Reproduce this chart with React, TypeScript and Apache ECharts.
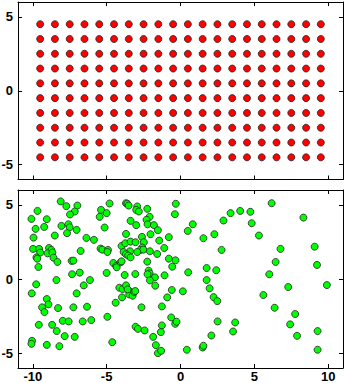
import React, { useEffect, useRef } from "react";
import * as echarts from "echarts";

const gridX = [-9.5, -8.5, -7.5, -6.5, -5.5, -4.5, -3.5, -2.5, -1.5, -0.5, 0.5, 1.5, 2.5, 3.5, 4.5, 5.5, 6.5, 7.5, 8.5, 9.5];
const gridY = [-4.5, -3.5, -2.5, -1.5, -0.5, 0.5, 1.5, 2.5, 3.5, 4.5];

const scatterPoints: [number, number][] = [
  [-10.09, 4.05], [-9.68, 4.59], [-8.11, 5.23], [-7.73, 4.91], [-6.98, 4.95], [-7.16, 4.55],
  [-7.48, 4.35], [-9.05, 4.03], [-9.81, 3.38], [-9.23, 3.51], [-8.06, 3.58], [-7.59, 3.69],
  [-7.5, 3.49], [-7.68, 3.09], [-7.03, 3.31], [-8.51, 2.93], [-9.95, 2.79], [-9.98, 2.03],
  [-9.57, 2.03], [-9.5, 1.78], [-9.75, 1.46], [-9.7, 1.37], [-8.9, 2.09], [-8.74, 1.96],
  [-9.0, 1.73], [-8.67, 1.78], [-8.6, 1.44], [-8.33, 1.15], [-9.62, 0.81], [-6.76, 1.89],
  [-7.37, 1.22], [-7.25, 1.24], [-6.82, 0.43], [-7.34, 0.32], [-8.4, -0.07], [-9.77, -0.36],
  [-10.07, -0.97], [-7.03, -0.97], [-6.55, -0.43], [-6.13, -0.07], [-9.05, -1.35], [-8.94, -1.71],
  [-9.37, -1.91], [-9.21, -2.23], [-8.29, -1.96], [-7.25, -1.91], [-6.33, -1.87], [-7.97, -2.82],
  [-7.57, -2.86], [-6.62, -2.86], [-6.04, -2.77], [-9.59, -3.09], [-8.69, -3.09], [-8.38, -3.51],
  [-7.84, -3.85], [-7.16, -3.9], [-10.05, -4.17], [-10.09, -4.37], [-9.05, -4.44], [-8.2, -4.53],
  [-4.95, -2.55], [-4.62, -4.26], [-6.37, 2.77], [-5.86, 2.64],
  [-5.38, 4.66], [-5.47, 4.19], [-4.8, 5.09], [-5.0, 4.44], [-5.14, 3.47], [-5.41, 2.05],
  [-5.29, 1.98], [-4.91, 1.96], [-4.95, 1.82], [-5.0, 0.41], [-4.55, 1.08], [-4.35, 0.88],
  [-4.32, 0.79], [-4.05, 1.13], [-3.99, 1.19], [-4.39, -1.6], [-3.99, 2.23], [-3.74, 2.41],
  [-3.38, 2.52], [-3.69, 3.04], [-3.69, 5.11], [-3.6, 5.07], [-3.51, 4.95], [-3.38, 3.92],
  [-2.93, 4.89], [-3.0, 4.66], [-2.82, 4.55], [-2.25, 4.73], [-2.09, 4.19], [-2.3, 3.99],
  [-2.23, 3.69], [-3.0, 3.63], [-1.8, 3.63], [-1.53, 3.29], [-2.03, 3.02], [-2.61, 2.84],
  [-1.44, 2.59], [-0.79, 2.82], [-3.04, 2.48], [-2.48, 2.48], [-1.1, 2.09], [-2.59, 2.12],
  [-2.72, 1.96], [-2.52, 1.98], [-2.93, 1.82], [-3.42, 1.87], [-3.85, 1.82], [-3.69, 1.67],
  [-3.54, 1.58], [-3.38, 1.46], [-2.07, 1.87], [-1.58, 1.69], [-2.25, 1.17], [-0.79, 1.37],
  [-0.34, 1.26], [-0.56, 0.83], [-0.32, 5.07], [-0.38, 4.37], [-2.16, 0.56], [-2.09, 0.38],
  [-2.23, 0.32], [-1.73, 0.11], [-1.08, 0.25], [-2.07, -0.09], [-3.78, 0.27], [-3.06, 0.34],
  [-4.14, -0.59], [-3.92, -0.68], [-3.69, -0.43], [-3.51, -0.77], [-3.96, -1.24], [-3.47, -1.04],
  [-3.24, -1.13], [-3.13, -0.88], [-3.06, -0.81], [-3.58, -0.7], [-1.71, -0.45], [-0.59, -0.74],
  [-0.9, -1.24], [-2.64, -1.91], [-1.26, -1.85], [-0.63, -2.59], [-0.36, -3.02], [-0.27, -2.88],
  [-3.04, -3.22], [-2.88, -3.36], [-2.43, -3.47], [-1.26, -3.13], [-1.33, -3.58], [-1.85, -3.9],
  [-1.67, -4.46], [-1.53, -5.0], [-1.31, -4.84],
  [0.49, 3.24], [0.83, 3.69], [1.55, 2.75], [2.29, 3.02], [2.91, 3.94], [3.39, 4.44],
  [4.04, 4.59], [4.73, 4.53], [4.82, 3.76], [5.31, 2.93], [6.17, 5.11], [8.32, 4.14],
  [2.78, 1.96], [6.77, 2.03], [9.08, 2.18], [9.24, 0.95], [6.44, 1.15], [6.01, 0.32],
  [1.77, 0.74], [2.42, 0.59], [0.52, 0.45], [1.77, -0.07], [1.97, -0.63], [0.16, -0.83],
  [2.24, -1.22], [2.49, -1.49], [5.61, -1.08], [7.29, -0.54], [9.91, -0.41], [6.37, -1.94],
  [7.76, -2.36], [2.51, -2.86], [3.7, -2.93], [7.42, -3.06], [3.56, -3.54], [2.09, -3.81],
  [7.89, -3.83], [9.28, -3.51], [0.43, -4.77], [1.5, -4.62], [1.55, -4.5], [9.28, -4.77],
];

const xTickValues = [-10, -5, 0, 5, 10];
const yTickValues = [-5, 0, 5];

export default function App() {
  const ref = useRef<HTMLDivElement>(null);
  useEffect(() => {
    if (!ref.current) return;
    const chart = echarts.init(ref.current, null, { renderer: "svg" });
    const latticeData: [number, number][] = [];
    gridY.forEach((y) => gridX.forEach((x) => latticeData.push([x, y])));

    const labelStyle = {
      color: "#000",
      fontWeight: "bold" as const,
      fontSize: 13,
      fontFamily: "'Liberation Sans', Arial, sans-serif",
    };
    const lineStyle = { color: "#000", width: 1 };
    const mkX = (gridIndex: number, position: "bottom" | "top", showLabel: boolean) => ({
      type: "value" as const,
      gridIndex,
      position,
      min: -11,
      max: 11,
      axisLine: { show: true, onZero: false, lineStyle },
      axisTick: { show: true, inside: true, length: 4, customValues: xTickValues, lineStyle },
      axisLabel: { show: showLabel, margin: 2, customValues: xTickValues, ...labelStyle },
      splitLine: { show: false },
    });
    const mkY = (gridIndex: number, position: "left" | "right", showLabel: boolean) => ({
      type: "value" as const,
      gridIndex,
      position,
      min: -6,
      max: 6,
      axisLine: { show: true, onZero: false, lineStyle },
      axisTick: { show: true, inside: true, length: 4, customValues: yTickValues, lineStyle },
      axisLabel: { show: showLabel, margin: 5, customValues: yTickValues, ...labelStyle },
      splitLine: { show: false },
    });

    chart.setOption({
      animation: false,
      backgroundColor: "#fff",
      grid: [
        { left: 18, top: 2, width: 325, height: 177.5, outerBoundsMode: "none", containLabel: false },
        { left: 18, top: 190, width: 325, height: 178, outerBoundsMode: "none", containLabel: false },
      ],
      xAxis: [mkX(0, "bottom", false), mkX(0, "top", false), mkX(1, "bottom", true), mkX(1, "top", false)],
      yAxis: [mkY(0, "left", true), mkY(0, "right", false), mkY(1, "left", true), mkY(1, "right", false)],
      series: [
        {
          type: "scatter",
          xAxisIndex: 0,
          yAxisIndex: 0,
          data: latticeData,
          symbolSize: 7,
          itemStyle: { color: "#ff0000", borderColor: "#222", borderWidth: 0.8, opacity: 1 },
        },
        {
          type: "scatter",
          xAxisIndex: 2,
          yAxisIndex: 2,
          data: scatterPoints,
          symbolSize: 7,
          itemStyle: { color: "#00ff00", borderColor: "#222", borderWidth: 0.8, opacity: 1 },
        },
      ],
    });
    return () => chart.dispose();
  }, []);
  return <div ref={ref} style={{ width: 346, height: 383, position: "absolute", left: 0, top: 0 }} />;
}
